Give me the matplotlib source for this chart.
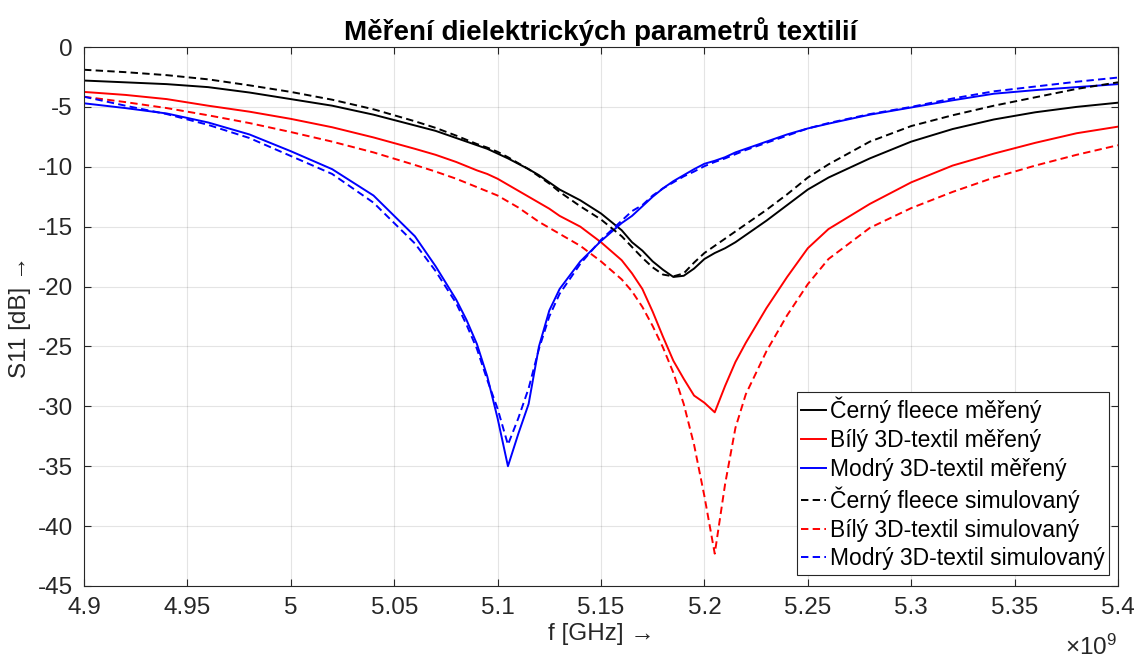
import matplotlib
matplotlib.use("Agg")
import matplotlib.pyplot as plt
from matplotlib.ticker import FuncFormatter, MultipleLocator

plt.rcParams['font.family'] = ['Liberation Sans', 'DejaVu Sans']
plt.rcParams['mathtext.fontset'] = 'custom'
plt.rcParams['mathtext.rm'] = 'Liberation Sans'

# Frequency samples [GHz]
freq_ghz = [4.90, 4.92, 4.94, 4.96, 4.98, 5.00, 5.02, 5.04, 5.06, 5.07,
            5.08, 5.085, 5.09, 5.095, 5.10, 5.105, 5.11, 5.115, 5.12, 5.125,
            5.13, 5.14, 5.15, 5.16, 5.165, 5.17, 5.175, 5.18, 5.185, 5.19,
            5.195, 5.20, 5.205, 5.21, 5.215, 5.22, 5.23, 5.24, 5.25, 5.26,
            5.28, 5.30, 5.32, 5.34, 5.36, 5.38, 5.40]

# S11 [dB] – measured
cerny_mer = [-2.8, -2.95, -3.1, -3.35, -3.8, -4.35, -4.9, -5.65, -6.55, -7.0,
             -7.6, -7.9, -8.2, -8.5, -8.9, -9.3, -9.75, -10.2, -10.7, -11.3,
             -11.9, -12.8, -13.9, -15.3, -16.3, -17.0, -17.9, -18.6, -19.2, -19.1,
             -18.5, -17.7, -17.2, -16.8, -16.3, -15.7, -14.5, -13.2, -11.9, -10.9,
             -9.3, -7.9, -6.85, -6.05, -5.45, -5.0, -4.65]
bily_mer = [-3.75, -4.0, -4.35, -4.9, -5.4, -6.0, -6.7, -7.55, -8.5, -9.0,
            -9.6, -9.95, -10.3, -10.6, -11.0, -11.5, -12.0, -12.5, -13.0, -13.5,
            -14.1, -15.0, -16.3, -17.8, -18.9, -20.2, -22.1, -24.2, -26.2, -27.7,
            -29.1, -29.7, -30.5, -28.3, -26.3, -24.7, -21.8, -19.2, -16.8, -15.2,
            -13.1, -11.3, -9.9, -8.9, -8.0, -7.2, -6.65]
modry_mer = [-4.7, -5.1, -5.55, -6.3, -7.3, -8.7, -10.2, -12.4, -15.8, -18.3,
             -21.1, -22.8, -24.8, -27.5, -31.0, -35.0, -32.3, -29.8, -25.0, -22.0,
             -20.2, -17.9, -16.2, -14.7, -14.1, -13.3, -12.5, -11.8, -11.2, -10.7,
             -10.2, -9.75, -9.5, -9.2, -8.8, -8.5, -7.9, -7.3, -6.8, -6.4,
             -5.65, -5.05, -4.45, -3.9, -3.6, -3.35, -3.1]

# S11 [dB] – simulated
cerny_sim = [-1.9, -2.1, -2.35, -2.7, -3.2, -3.75, -4.4, -5.2, -6.2, -6.75,
             -7.4, -7.75, -8.1, -8.4, -8.75, -9.2, -9.7, -10.2, -10.8, -11.4,
             -12.1, -13.3, -14.4, -15.8, -16.7, -17.6, -18.4, -19.0, -19.15, -18.9,
             -18.0, -17.2, -16.6, -16.0, -15.4, -14.8, -13.6, -12.3, -10.9, -9.8,
             -7.9, -6.6, -5.7, -4.9, -4.2, -3.5, -2.95]
bily_sim = [-4.15, -4.6, -5.1, -5.7, -6.35, -7.1, -7.9, -8.8, -9.85, -10.4,
            -11.0, -11.35, -11.7, -12.05, -12.4, -12.9, -13.4, -14.0, -14.6, -15.1,
            -15.6, -16.6, -17.9, -19.4, -20.4, -21.7, -23.3, -25.1, -27.2, -29.8,
            -33.2, -37.5, -42.3, -36.5, -31.8, -29.0, -25.4, -22.4, -19.8, -17.7,
            -15.1, -13.45, -12.1, -10.9, -9.9, -9.0, -8.2]
modry_sim = [-4.15, -4.9, -5.6, -6.5, -7.6, -9.1, -10.6, -13.0, -16.4, -18.7,
             -21.4, -23.2, -25.2, -27.8, -30.2, -33.2, -31.0, -28.5, -25.2, -22.5,
             -20.6, -18.1, -16.1, -14.5, -13.7, -13.2, -12.4, -11.8, -11.3, -10.8,
             -10.4, -9.95, -9.6, -9.3, -8.95, -8.6, -8.0, -7.4, -6.8, -6.35,
             -5.6, -5.0, -4.3, -3.7, -3.3, -2.9, -2.55]

series = [
    ("Černý fleece měřený", cerny_mer, "black", "-"),
    ("Bílý 3D-textil měřený", bily_mer, "red", "-"),
    ("Modrý 3D-textil měřený", modry_mer, "blue", "-"),
    ("Černý fleece simulovaný", cerny_sim, "black", "--"),
    ("Bílý 3D-textil simulovaný", bily_sim, "red", "--"),
    ("Modrý 3D-textil simulovaný", modry_sim, "blue", "--"),
]

W, H = 1138, 661
fig = plt.figure(figsize=(W / 100, H / 100), dpi=100)
ax = fig.add_axes([84 / W, 1 - 586 / H, (1118 - 84) / W, (586 - 47) / H])

freq_hz = [f * 1e9 for f in freq_ghz]
for label, values, color, ls in series:
    kw = dict(color=color, lw=1.4, label=label)
    if ls == "--":
        kw["dashes"] = (3.8, 2.2)
    ax.plot(freq_hz, values, **kw)

ax.set_xlim(4.9e9, 5.4e9)
ax.set_ylim(-45, 0)
ax.xaxis.set_major_locator(MultipleLocator(0.05e9))
ax.yaxis.set_major_locator(MultipleLocator(5))
ax.xaxis.set_major_formatter(FuncFormatter(lambda v, _: f"{v / 1e9:g}"))
ax.yaxis.set_major_formatter(FuncFormatter(lambda v, _: f"{v:g}"))

txt = "#262626"
ax.grid(True, color="#262626", alpha=0.12, lw=0.8)
for s in ax.spines.values():
    s.set_color(txt)
    s.set_linewidth(0.8)
ax.tick_params(direction="in", length=5, width=0.8, colors=txt,
               labelsize=17.5, top=True, right=True, pad=8)

ax.set_title("Měření dielektrických parametrů textilií", fontsize=20,
             fontweight="bold", color="black", pad=5)
ax.set_xlabel("f [GHz] →", fontsize=17.5, color=txt, labelpad=3)
ax.set_ylabel("S11 [dB] →", fontsize=17.5, color=txt, labelpad=5)

fig.text(1117 / W, 1 - 660 / H, r"$\times\mathregular{10^{9}}$", ha="right",
         va="bottom", fontsize=17.5, color=txt)

leg = ax.legend(loc="lower right", bbox_to_anchor=(0.9913, 0.0204),
                fontsize=16.5, frameon=True, fancybox=False, framealpha=1,
                edgecolor="#262626", handlelength=1.1, handletextpad=0.15,
                labelspacing=0.25, borderpad=0.2, borderaxespad=0)
leg.get_frame().set_linewidth(0.8)
for t in leg.get_texts():
    t.set_color("black")

fig.savefig("out.png", dpi=100)
